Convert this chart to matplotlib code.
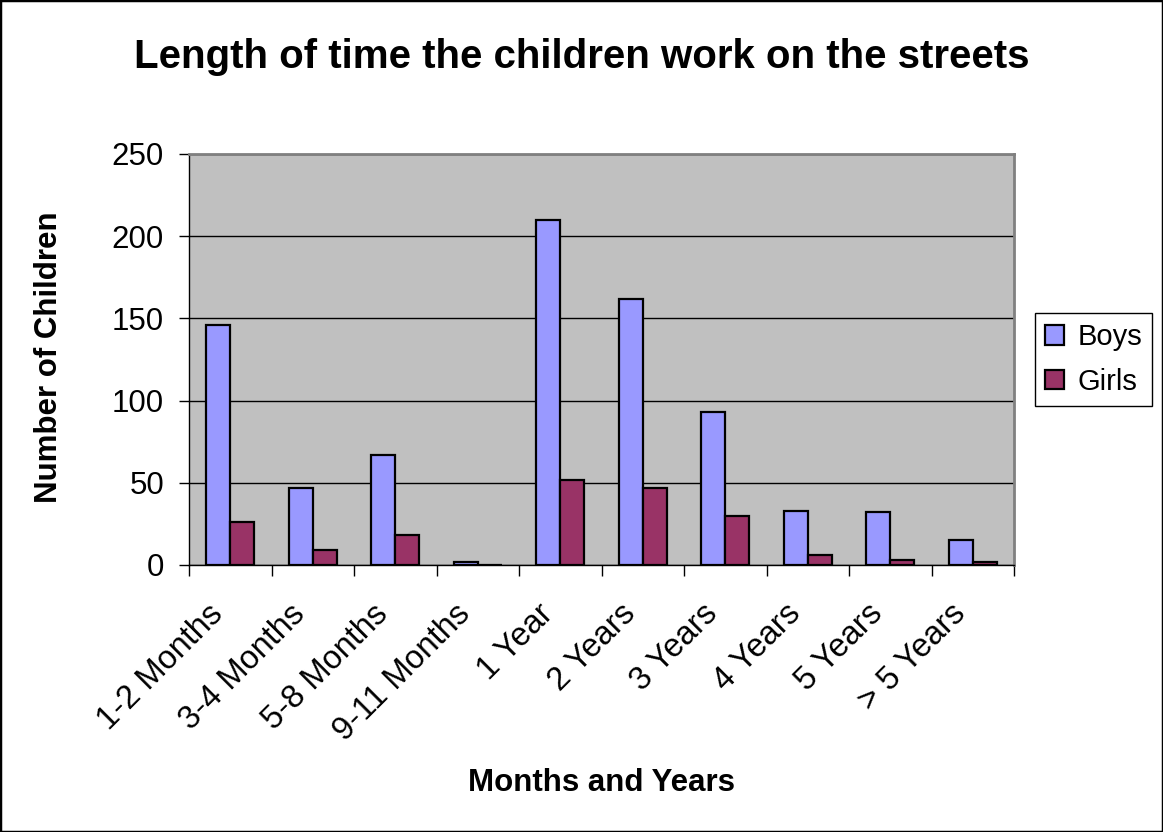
import numpy as np
import matplotlib.pyplot as plt
from matplotlib.patches import Rectangle
from matplotlib.transforms import ScaledTranslation

plt.rcParams['font.family'] = ['Liberation Sans', 'DejaVu Sans']

# data
categories = ['1-2 Months', '3-4 Months', '5-8 Months', '9-11 Months', '1 Year',
              '2 Years', '3 Years', '4 Years', '5 Years', '> 5 Years']
boys = [146, 47, 67, 2, 210, 162, 93, 33, 32, 15]
girls = [26, 9, 18, 0, 52, 47, 30, 6, 3, 2]

W, H = 1163, 832
fig = plt.figure(figsize=(W/100, H/100), dpi=100)
fig.patches.append(Rectangle((0.0, 0.0), 1.0, 1.0, transform=fig.transFigure,
                             fill=False, edgecolor='black', lw=2.5))
ax = fig.add_axes([189/W, 267/H, 825/W, 411/H])
ax.set_facecolor('#C0C0C0')

x = np.arange(len(categories))
w = 0.29
ax.bar(x - w/2, boys, w, color='#9999FF', edgecolor='black', lw=1.6, label='Boys', zorder=3)
ax.bar(x + w/2, girls, w, color='#993366', edgecolor='black', lw=1.6, label='Girls', zorder=3)

ax.set_xlim(-0.5, len(categories) - 0.5)
ax.set_ylim(0, 250)
ax.set_yticks(range(0, 251, 50))
ax.tick_params(axis='y', labelsize=22.5, length=7, width=1, direction='out', pad=11)
ax.yaxis.grid(True, color='black', lw=1, zorder=1)

# ticks between groups, labels at group centres
ax.set_xticks(np.arange(len(categories) + 1) - 0.5)
ax.set_xticklabels([])
ax.tick_params(axis='x', which='major', length=8, width=1, direction='out')
ax.set_xticks(x, minor=True)
ax.set_xticklabels(categories, minor=True, rotation=45, ha='right', va='center',
                   rotation_mode='anchor', fontsize=23.5)
ax.tick_params(axis='x', which='minor', length=0, pad=32)
# nudge the rotated labels a little to the left, like the original
shift = ScaledTranslation(-12/100, 0, fig.dpi_scale_trans)
for lab in ax.xaxis.get_minorticklabels():
    lab.set_transform(lab.get_transform() + shift)

for s in ['top', 'right']:
    ax.spines[s].set_color('#808080')
    ax.spines[s].set_linewidth(2)
for s in ['left', 'bottom']:
    ax.spines[s].set_color('black')
    ax.spines[s].set_linewidth(1)

fig.text(0.5, 1 - 68/H, 'Length of time the children work on the streets', ha='center',
         va='baseline', fontsize=29, fontweight='bold')
fig.text(601/W, 1 - 783/H, 'Months and Years', ha='center', va='center',
         fontsize=22.5, fontweight='bold')
fig.text(49/W, 1 - 357/H, 'Number of Children', ha='center', va='center',
         rotation=90, fontsize=22.5, fontweight='bold')

leg = ax.legend(loc='center left', bbox_to_anchor=((1035 - 189)/825, 0.5), fontsize=21,
                frameon=True, fancybox=False, edgecolor='black', framealpha=1,
                handlelength=0.65, handleheight=0.65, handletextpad=0.45,
                borderpad=0.35, labelspacing=0.55, borderaxespad=0)
leg.get_frame().set_linewidth(1)

fig.savefig('out.png', dpi=100)
